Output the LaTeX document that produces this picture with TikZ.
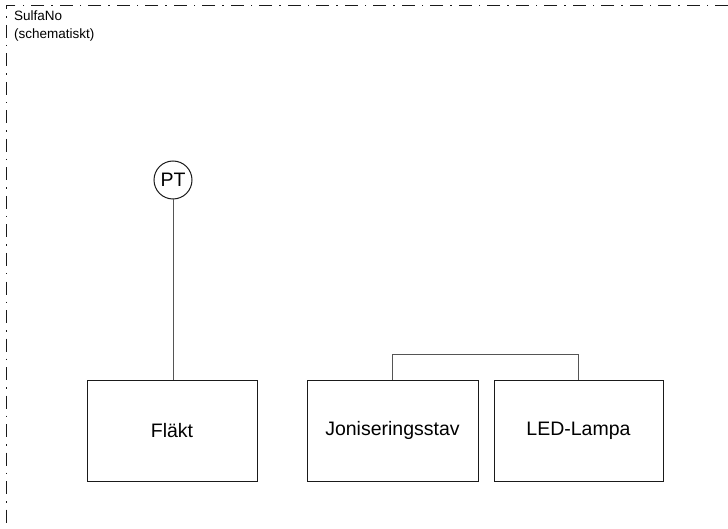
\documentclass[tikz,border=0pt]{standalone}
\usepackage{fontspec}
\setmainfont{Liberation Sans}
\usepackage{xcolor}
\definecolor{linemain}{HTML}{1A1A1A}
\definecolor{linelight}{HTML}{555555}
\usetikzlibrary{positioning, calc}

\begin{document}
\begin{tikzpicture}[
        x=1pt, y=-1pt,
        unit/.style={
            rectangle,
            draw=linemain,
            line width=1pt,
            align=center,
            minimum width=170pt,
            minimum height=101pt,
            font=\fontsize{19.5}{23}\selectfont
        },
        instr/.style={
            circle,
            draw=linemain,
            line width=1pt,
            minimum size=38pt,
            inner sep=0pt,
            font=\fontsize{19.5}{23}\selectfont
        },
        link/.style={
            draw=linelight,
            line width=1pt
        },
        frame/.style={
            draw=linemain,
            line width=1pt,
            dash pattern=on 13pt off 7pt on 1.5pt off 7pt
        }
    ]
    \useasboundingbox (0,0) rectangle (728,529);

    % System boundary
    \coordinate (corner) at (6,6);
    \draw[frame] (728,6) -- (corner) -- (6,529);
    \node[anchor=north west, align=left, inner sep=0pt, font=\fontsize{13.5}{18}\selectfont] (title) at (14,11) {SulfaNo\\(schematiskt)};

    % Units
    \node[unit] (flakt) at (172,430.5) {Fläkt};
    \node[unit, minimum width=171pt] (jonstav) at (392.5,430.5) {Joniseringsstav};
    \node[unit, minimum width=169pt] (ledlampa) at (578.5,430.5) {LED-Lampa};

    % Instrument
    \node[instr] (pt) at (173,180) {PT};

    % Connections
    \draw[link] (pt.south) -- (pt.south |- flakt.north);
    \draw[link] (jonstav.north) -- ++(0,-25) -| (ledlampa.north);

\end{tikzpicture}
\end{document}
